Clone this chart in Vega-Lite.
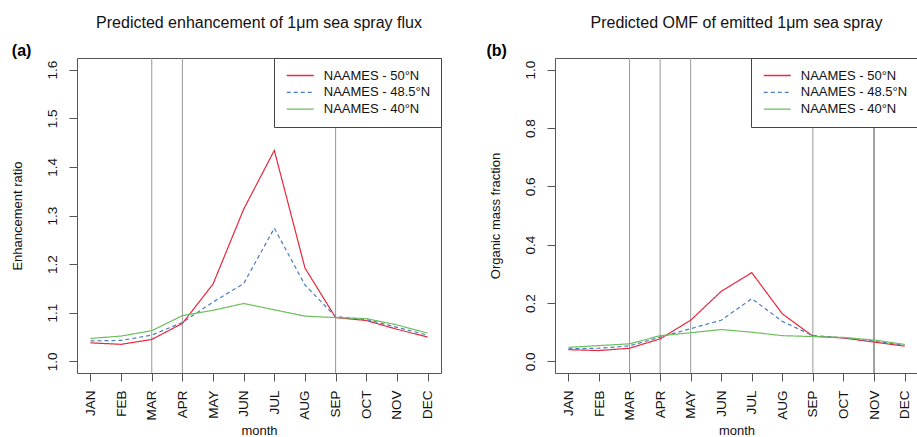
{
  "$schema": "https://vega.github.io/schema/vega-lite/v6.json",
  "padding": {"left": 10, "top": 14, "right": 0, "bottom": 0},
  "background": "white",
  "config": {
    "font": "Liberation Sans",
    "view": {"stroke": "#555", "strokeWidth": 1},
    "axis": {"grid": false, "domain": false, "tickColor": "#555", "tickSize": 8, "labelFontSize": 13.5, "labelColor": "#111", "titleFontSize": 13, "titleFontWeight": "normal", "titleColor": "#111", "labelFont": "Liberation Sans", "titleFont": "Liberation Sans"},
    "axisX": {"title": "month", "labelAngle": 270, "labelAlign": "right", "labelBaseline": "middle", "labelPadding": 9, "titlePadding": 5},
    "title": {"fontSize": 16, "fontWeight": "normal", "font": "Liberation Sans", "color": "#111"},
    "legend": {"orient": "top-right", "offset": 0, "padding": 10, "strokeColor": "#444", "fillColor": "white", "cornerRadius": 0, "symbolType": "M-2,0H2", "symbolSize": 182, "symbolOffset": 8.75, "symbolStrokeWidth": 1.3, "labelFontSize": 13, "labelOffset": 16, "rowPadding": 1.8, "labelColor": "#111", "labelFont": "Liberation Sans", "labelLimit": 300}
  },
  "datasets": {
    "gridA": [{"month": "MAR"}, {"month": "APR"}, {"month": "SEP"}],
    "gridB": [{"month": "MAR"}, {"month": "APR"}, {"month": "MAY"}, {"month": "SEP"}, {"month": "NOV"}],
    "seriesA": [
      {"month": "JAN", "site": "NAAMES - 50°N", "value": 1.038},
      {"month": "FEB", "site": "NAAMES - 50°N", "value": 1.035},
      {"month": "MAR", "site": "NAAMES - 50°N", "value": 1.045},
      {"month": "APR", "site": "NAAMES - 50°N", "value": 1.078},
      {"month": "MAY", "site": "NAAMES - 50°N", "value": 1.159},
      {"month": "JUN", "site": "NAAMES - 50°N", "value": 1.313},
      {"month": "JUL", "site": "NAAMES - 50°N", "value": 1.434},
      {"month": "AUG", "site": "NAAMES - 50°N", "value": 1.192},
      {"month": "SEP", "site": "NAAMES - 50°N", "value": 1.090},
      {"month": "OCT", "site": "NAAMES - 50°N", "value": 1.084},
      {"month": "NOV", "site": "NAAMES - 50°N", "value": 1.066},
      {"month": "DEC", "site": "NAAMES - 50°N", "value": 1.050},
      {"month": "JAN", "site": "NAAMES - 48.5°N", "value": 1.042},
      {"month": "FEB", "site": "NAAMES - 48.5°N", "value": 1.043},
      {"month": "MAR", "site": "NAAMES - 48.5°N", "value": 1.054},
      {"month": "APR", "site": "NAAMES - 48.5°N", "value": 1.080},
      {"month": "MAY", "site": "NAAMES - 48.5°N", "value": 1.122},
      {"month": "JUN", "site": "NAAMES - 48.5°N", "value": 1.160},
      {"month": "JUL", "site": "NAAMES - 48.5°N", "value": 1.274},
      {"month": "AUG", "site": "NAAMES - 48.5°N", "value": 1.157},
      {"month": "SEP", "site": "NAAMES - 48.5°N", "value": 1.092},
      {"month": "OCT", "site": "NAAMES - 48.5°N", "value": 1.086},
      {"month": "NOV", "site": "NAAMES - 48.5°N", "value": 1.070},
      {"month": "DEC", "site": "NAAMES - 48.5°N", "value": 1.054},
      {"month": "JAN", "site": "NAAMES - 40°N", "value": 1.047},
      {"month": "FEB", "site": "NAAMES - 40°N", "value": 1.052},
      {"month": "MAR", "site": "NAAMES - 40°N", "value": 1.063},
      {"month": "APR", "site": "NAAMES - 40°N", "value": 1.094},
      {"month": "MAY", "site": "NAAMES - 40°N", "value": 1.105},
      {"month": "JUN", "site": "NAAMES - 40°N", "value": 1.119},
      {"month": "JUL", "site": "NAAMES - 40°N", "value": 1.106},
      {"month": "AUG", "site": "NAAMES - 40°N", "value": 1.093},
      {"month": "SEP", "site": "NAAMES - 40°N", "value": 1.090},
      {"month": "OCT", "site": "NAAMES - 40°N", "value": 1.088},
      {"month": "NOV", "site": "NAAMES - 40°N", "value": 1.075},
      {"month": "DEC", "site": "NAAMES - 40°N", "value": 1.058}
    ],
    "seriesB": [
      {"month": "JAN", "site": "NAAMES - 50°N", "value": 0.040},
      {"month": "FEB", "site": "NAAMES - 50°N", "value": 0.037},
      {"month": "MAR", "site": "NAAMES - 50°N", "value": 0.045},
      {"month": "APR", "site": "NAAMES - 50°N", "value": 0.077},
      {"month": "MAY", "site": "NAAMES - 50°N", "value": 0.141},
      {"month": "JUN", "site": "NAAMES - 50°N", "value": 0.240},
      {"month": "JUL", "site": "NAAMES - 50°N", "value": 0.304},
      {"month": "AUG", "site": "NAAMES - 50°N", "value": 0.163},
      {"month": "SEP", "site": "NAAMES - 50°N", "value": 0.086},
      {"month": "OCT", "site": "NAAMES - 50°N", "value": 0.080},
      {"month": "NOV", "site": "NAAMES - 50°N", "value": 0.066},
      {"month": "DEC", "site": "NAAMES - 50°N", "value": 0.052},
      {"month": "JAN", "site": "NAAMES - 48.5°N", "value": 0.043},
      {"month": "FEB", "site": "NAAMES - 48.5°N", "value": 0.045},
      {"month": "MAR", "site": "NAAMES - 48.5°N", "value": 0.053},
      {"month": "APR", "site": "NAAMES - 48.5°N", "value": 0.083},
      {"month": "MAY", "site": "NAAMES - 48.5°N", "value": 0.112},
      {"month": "JUN", "site": "NAAMES - 48.5°N", "value": 0.141},
      {"month": "JUL", "site": "NAAMES - 48.5°N", "value": 0.215},
      {"month": "AUG", "site": "NAAMES - 48.5°N", "value": 0.137},
      {"month": "SEP", "site": "NAAMES - 48.5°N", "value": 0.088},
      {"month": "OCT", "site": "NAAMES - 48.5°N", "value": 0.081},
      {"month": "NOV", "site": "NAAMES - 48.5°N", "value": 0.069},
      {"month": "DEC", "site": "NAAMES - 48.5°N", "value": 0.055},
      {"month": "JAN", "site": "NAAMES - 40°N", "value": 0.048},
      {"month": "FEB", "site": "NAAMES - 40°N", "value": 0.054},
      {"month": "MAR", "site": "NAAMES - 40°N", "value": 0.060},
      {"month": "APR", "site": "NAAMES - 40°N", "value": 0.088},
      {"month": "MAY", "site": "NAAMES - 40°N", "value": 0.098},
      {"month": "JUN", "site": "NAAMES - 40°N", "value": 0.109},
      {"month": "JUL", "site": "NAAMES - 40°N", "value": 0.100},
      {"month": "AUG", "site": "NAAMES - 40°N", "value": 0.088},
      {"month": "SEP", "site": "NAAMES - 40°N", "value": 0.085},
      {"month": "OCT", "site": "NAAMES - 40°N", "value": 0.082},
      {"month": "NOV", "site": "NAAMES - 40°N", "value": 0.073},
      {"month": "DEC", "site": "NAAMES - 40°N", "value": 0.058}
    ]
  },
  "spacing": 114,
  "bounds": "flush",
  "hconcat": [
    {
      "width": 364,
      "height": 315,
      "title": {"text": "Predicted enhancement of 1μm sea spray flux", "anchor": "middle", "frame": "group", "offset": 11},
      "layer": [
        {
          "data": {"name": "gridA"},
          "mark": {"type": "rule", "strokeWidth": 1},
          "encoding": {
            "x": {"field": "month", "type": "ordinal", "scale": {"type": "point", "domain": ["JAN","FEB","MAR","APR","MAY","JUN","JUL","AUG","SEP","OCT","NOV","DEC"], "padding": 0.44}, "axis": {"title": "month"}},
            "y": {"datum": 0.976, "type": "quantitative", "scale": {"domain": [0.976, 1.624], "nice": false, "zero": false},
                  "axis": {"orient": "right", "labels": false, "ticks": false, "domain": false, "grid": false, "title": "(a)", "titleAngle": 0, "titleX": -429.7, "titleY": -3, "titleAlign": "left", "titleBaseline": "alphabetic", "titleFontWeight": "bold", "titleFontSize": 16, "titleColor": "#000"}},
            "y2": {"datum": 1.624},
            "color": {"value": "#999"}
          }
        },
        {
          "data": {"name": "seriesA"},
          "mark": {"type": "line", "strokeWidth": 1.2},
          "encoding": {
            "x": {"field": "month", "type": "ordinal", "scale": {"type": "point", "domain": ["JAN","FEB","MAR","APR","MAY","JUN","JUL","AUG","SEP","OCT","NOV","DEC"], "padding": 0.44}, "axis": {"title": "month"}},
            "y": {"field": "value", "type": "quantitative", "scale": {"domain": [0.976, 1.624], "nice": false, "zero": false},
                  "axis": {"orient": "left", "title": "Enhancement ratio", "values": [1.0, 1.1, 1.2, 1.3, 1.4, 1.5, 1.6], "format": ".1f", "labelAngle": 270, "labelAlign": "center", "labelBaseline": "bottom", "labelPadding": 10, "titlePadding": 20.5}},
            "color": {"field": "site", "type": "nominal", "scale": {"domain": ["NAAMES - 50°N", "NAAMES - 48.5°N", "NAAMES - 40°N"], "range": ["#E8283C", "#4A7EC4", "#6CBF5C"]}, "legend": {"title": null}},
            "strokeDash": {"field": "site", "type": "nominal", "scale": {"domain": ["NAAMES - 50°N", "NAAMES - 48.5°N", "NAAMES - 40°N"], "range": [[1, 0], [4, 3], [1, 0]]}, "legend": {"title": null}}
          }
        }
      ]
    },
    {
      "width": 363,
      "height": 315,
      "title": {"text": "Predicted OMF of emitted 1μm sea spray", "anchor": "middle", "frame": "group", "offset": 11},
      "layer": [
        {
          "data": {"name": "gridB"},
          "mark": {"type": "rule", "strokeWidth": 1},
          "encoding": {
            "x": {"field": "month", "type": "ordinal", "scale": {"type": "point", "domain": ["JAN","FEB","MAR","APR","MAY","JUN","JUL","AUG","SEP","OCT","NOV","DEC"], "padding": 0.44}, "axis": {"title": "month"}},
            "y": {"datum": -0.04, "type": "quantitative", "scale": {"domain": [-0.04, 1.04], "nice": false, "zero": false},
                  "axis": {"orient": "right", "labels": false, "ticks": false, "domain": false, "grid": false, "title": "(b)", "titleAngle": 0, "titleX": -432, "titleY": -3, "titleAlign": "left", "titleBaseline": "alphabetic", "titleFontWeight": "bold", "titleFontSize": 16, "titleColor": "#000"}},
            "y2": {"datum": 1.04},
            "color": {"condition": {"test": "datum.month === 'NOV'", "value": "#444"}, "value": "#999"}
          }
        },
        {
          "data": {"name": "seriesB"},
          "mark": {"type": "line", "strokeWidth": 1.2},
          "encoding": {
            "x": {"field": "month", "type": "ordinal", "scale": {"type": "point", "domain": ["JAN","FEB","MAR","APR","MAY","JUN","JUL","AUG","SEP","OCT","NOV","DEC"], "padding": 0.44}, "axis": {"title": "month"}},
            "y": {"field": "value", "type": "quantitative", "scale": {"domain": [-0.04, 1.04], "nice": false, "zero": false},
                  "axis": {"orient": "left", "title": "Organic mass fraction", "values": [0.0, 0.2, 0.4, 0.6, 0.8, 1.0], "format": ".1f", "labelAngle": 270, "labelAlign": "center", "labelBaseline": "bottom", "labelPadding": 10, "titlePadding": 20.5}},
            "color": {"field": "site", "type": "nominal", "scale": {"domain": ["NAAMES - 50°N", "NAAMES - 48.5°N", "NAAMES - 40°N"], "range": ["#E8283C", "#4A7EC4", "#6CBF5C"]}, "legend": {"title": null}},
            "strokeDash": {"field": "site", "type": "nominal", "scale": {"domain": ["NAAMES - 50°N", "NAAMES - 48.5°N", "NAAMES - 40°N"], "range": [[1, 0], [4, 3], [1, 0]]}, "legend": {"title": null}}
          }
        }
      ]
    }
  ],
  "resolve": {"legend": {"color": "independent", "strokeDash": "independent"}}
}
